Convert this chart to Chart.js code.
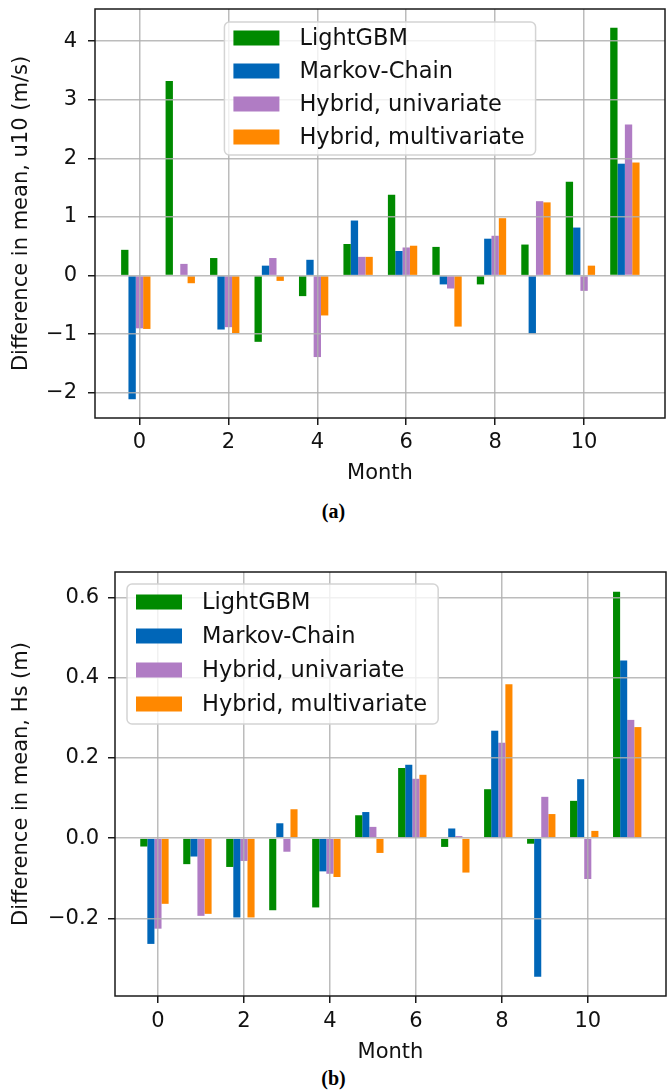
<!DOCTYPE html>
<html>
<head>
<meta charset="utf-8">
<script src="https://cdn.jsdelivr.net/npm/chart.js@4.4.1/dist/chart.umd.min.js"></script>
<style>
  html, body { margin: 0; padding: 0; background: #fff; }
  body { width: 667px; height: 1091px; position: relative; overflow: hidden; }
  canvas { position: absolute; left: 0; }
  #chart-u10 { top: 0; }
  #chart-hs { top: 540px; }
  .panel-label {
    position: absolute; left: 0; width: 667px; text-align: center;
    font: bold 20px "Liberation Serif", serif; line-height: 22px; color: #000;
  }
</style>
</head>
<body>
<canvas id="chart-u10" width="667" height="490"></canvas>
<div class="panel-label" style="top:500px">(a)</div>
<canvas id="chart-hs" width="667" height="525"></canvas>
<div class="panel-label" style="top:1067px">(b)</div>

<script>
const months = [0, 1, 2, 3, 4, 5, 6, 7, 8, 9, 10, 11];
const seriesNames = ["LightGBM", "Markov-Chain", "Hybrid, univariate", "Hybrid, multivariate"];
const seriesColors = ["#008a00", "#0066b8", "#b07cc4", "#ff8800"];

// u10 (m/s)
const u10Lgbm = [0.44, 3.32, 0.30, -1.13, -0.35, 0.54, 1.38, 0.49, -0.15, 0.53, 1.60, 4.23];
const u10Markov = [-2.11, 0.0, -0.92, 0.17, 0.27, 0.94, 0.42, -0.15, 0.63, -0.99, 0.82, 1.91];
const u10HybUni = [-0.90, 0.20, -0.88, 0.30, -1.39, 0.32, 0.48, -0.22, 0.68, 1.27, -0.26, 2.58];
const u10HybMulti = [-0.91, -0.13, -0.98, -0.09, -0.68, 0.32, 0.51, -0.87, 0.98, 1.25, 0.17, 1.93];

// Hs (m)
const hsLgbm = [-0.021, -0.065, -0.072, -0.180, -0.173, 0.057, 0.175, -0.022, 0.122, -0.014, 0.093, 0.615];
const hsMarkov = [-0.264, -0.046, -0.198, 0.037, -0.083, 0.065, 0.183, 0.024, 0.268, -0.346, 0.147, 0.443];
const hsHybUni = [-0.226, -0.194, -0.057, -0.034, -0.089, 0.028, 0.148, 0.005, 0.238, 0.103, -0.102, 0.295];
const hsHybMulti = [-0.164, -0.189, -0.198, 0.072, -0.097, -0.037, 0.158, -0.086, 0.384, 0.060, 0.018, 0.277];

const textColor = "#111";
const gridColor = "rgba(176,176,176,0.85)";
const baseFont = { family: "'DejaVu Sans'", size: 21 };

Chart.defaults.font.family = "'DejaVu Sans'";
Chart.defaults.font.size = 21;
Chart.defaults.color = textColor;

// axes frame on all four sides
const framePlugin = {
  id: "frame",
  afterDraw(chart) {
    const { ctx, chartArea: a } = chart;
    ctx.save();
    ctx.strokeStyle = "#1a1a1a";
    ctx.lineWidth = 1.5;
    ctx.strokeRect(a.left, a.top, a.right - a.left, a.bottom - a.top);
    ctx.restore();
  },
};

// matplotlib-like legend box inside the plot
const boxLegend = {
  id: "boxLegend",
  afterDraw(chart, args, opts) {
    const { ctx, chartArea: a } = chart;
    const items = chart.data.datasets.filter((d) => d.label);
    ctx.save();
    ctx.font = "22.5px 'DejaVu Sans'";
    const textW = Math.max(...items.map((d) => ctx.measureText(d.label).width));
    const w = 75 + textW + 11;
    const h = opts.padTop + opts.rowHeight * (items.length - 1) + opts.padBottom;
    const x = opts.align === "center" ? (a.left + a.right) / 2 - w / 2 : a.left + opts.offsetX;
    const y = a.top + opts.offsetY;

    ctx.beginPath();
    ctx.roundRect(x, y, w, h, 5);
    ctx.fillStyle = "rgba(255,255,255,0.8)";
    ctx.fill();
    ctx.strokeStyle = "#d4d4d4";
    ctx.lineWidth = 1.5;
    ctx.stroke();

    ctx.textBaseline = "middle";
    ctx.textAlign = "left";
    items.forEach((d, i) => {
      const cy = y + opts.padTop + i * opts.rowHeight;
      ctx.fillStyle = d.backgroundColor;
      ctx.fillRect(x + 9, cy - 7.5, 46, 15);
      ctx.fillStyle = textColor;
      ctx.fillText(d.label, x + 75, cy + 1);
    });
    ctx.restore();
  },
};

function minusSign(v, digits) {
  const s = digits ? Math.abs(v).toFixed(digits) : String(Math.abs(Math.round(v)));
  return (v < -1e-9 ? "\u2212" : "") + s;
}

function noPadding(s) {
  s.paddingTop = 0;
  s.paddingBottom = 0;
  s.paddingLeft = 0;
  s.paddingRight = 0;
}

function buildDatasets(values) {
  const sets = values.map((data, i) => ({
    label: seriesNames[i],
    data,
    backgroundColor: seriesColors[i],
    borderWidth: 0,
  }));
  // empty fifth slot, as in the original grouping
  sets.push({ label: "", data: [], backgroundColor: "rgba(0,0,0,0)" });
  return sets;
}

function makeChart(id, values, cfg) {
  const ctx = document.getElementById(id);
  if (!ctx) return;

  new Chart(ctx, {
    type: "bar",
    data: { labels: months, datasets: buildDatasets(values) },
    options: {
      responsive: false,
      animation: false,
      devicePixelRatio: 1,
      layout: { padding: { top: cfg.padTop, right: cfg.padRight, left: 0, bottom: 0 } },
      datasets: { bar: { categoryPercentage: 0.825, barPercentage: 1 } },
      plugins: {
        legend: { display: false },
        tooltip: { enabled: false },
        boxLegend: cfg.legend,
      },
      scales: {
        x: {
          type: "linear",
          min: -1.0,
          max: 11.82,
          offset: false,
          grid: {
            offset: false, color: gridColor, lineWidth: 1.5, z: 1,
            tickLength: 7, tickColor: "#1a1a1a", tickWidth: 1.5,
          },
          border: { display: false },
          ticks: { stepSize: 2, includeBounds: false, padding: cfg.xTickPad, font: baseFont, maxRotation: 0 },
          title: { display: true, text: "Month", font: baseFont, padding: { top: 0, bottom: cfg.xTitlePad } },
          afterFit: (s) => { s.height = cfg.xHeight; noPadding(s); },
        },
        y: {
          min: cfg.yMin,
          max: cfg.yMax,
          grid: {
            color: gridColor, lineWidth: 1.5, z: 1,
            tickLength: 7, tickColor: "#1a1a1a", tickWidth: 1.5,
          },
          border: { display: false },
          ticks: {
            stepSize: cfg.yStep, includeBounds: false, padding: cfg.yTickPad, font: baseFont,
            callback: (v) => minusSign(v, cfg.yDigits),
          },
          title: { display: true, text: cfg.yTitle, font: baseFont, padding: { top: 9, bottom: 0 } },
          afterFit: (s) => { s.width = cfg.yWidth; noPadding(s); },
        },
      },
    },
    plugins: [framePlugin, boxLegend],
  });
}

document.addEventListener("DOMContentLoaded", () => {
  makeChart("chart-u10", [u10Lgbm, u10Markov, u10HybUni, u10HybMulti], {
    padTop: 9, padRight: 2, xHeight: 72, xTickPad: 5, xTitlePad: 4,
    yMin: -2.43, yMax: 4.55, yStep: 1, yDigits: 0, yTickPad: 11, yWidth: 95,
    yTitle: "Difference in mean, u10 (m/s)",
    legend: { align: "center", offsetX: 0, offsetY: 13, padTop: 16, rowHeight: 33, padBottom: 18 },
  });

  makeChart("chart-hs", [hsLgbm, hsMarkov, hsHybUni, hsHybMulti], {
    padTop: 32, padRight: 1, xHeight: 69, xTickPad: 6, xTitlePad: 0,
    yMin: -0.394, yMax: 0.664, yStep: 0.2, yDigits: 1, yTickPad: 9, yWidth: 115,
    yTitle: "Difference in mean, Hs (m)",
    legend: { align: "left", offsetX: 12, offsetY: 12, padTop: 18, rowHeight: 34, padBottom: 20 },
  });
});
</script>
</body>
</html>
